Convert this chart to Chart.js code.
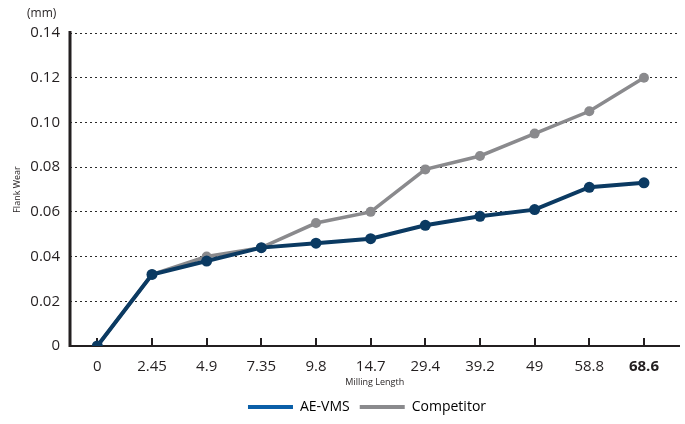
<!DOCTYPE html>
<html>
<head>
<meta charset="utf-8">
<script src="https://cdn.jsdelivr.net/npm/chart.js"></script>
<style>
  html, body { margin: 0; padding: 0; background: #fff; }
  #wrap { width: 685px; height: 424px; position: relative; }
</style>
</head>
<body>
<div id="wrap"><canvas id="wearChart"></canvas></div>
<script>
// datos
const millingLength = ['0', '2.45', '4.9', '7.35', '9.8', '14.7', '29.4', '39.2', '49', '58.8', '68.6'];
const aeVms = [0, 0.032, 0.038, 0.044, 0.046, 0.048, 0.054, 0.058, 0.061, 0.071, 0.073];
const competitor = [0, 0.032, 0.040, 0.044, 0.055, 0.060, 0.079, 0.085, 0.095, 0.105, 0.120];
const yTickLabels = ['0', '0.02', '0.04', '0.06', '0.08', '0.10', '0.12', '0.14'];

const FONT = "'Open Sans', 'Noto Sans', sans-serif";
const DARK = '#231f20';

// eje y solido, marcas del eje x hacia arriba y texto (mm)
const extras = {
  id: 'extras',
  afterLayout(chart) {
    // mover la leyenda un poco a la derecha como en el original
    chart.legend.left += 27;
    chart.legend.right += 27;
  },
  beforeDatasetsDraw(chart) {
    const ctx = chart.ctx;
    const xs = chart.scales.x;
    const { left, top, bottom } = chart.chartArea;
    ctx.save();
    ctx.setLineDash([]);
    ctx.strokeStyle = DARK;
    ctx.lineWidth = 2;
    millingLength.forEach((_, i) => {
      const px = Math.round(xs.getPixelForValue(i));
      ctx.beginPath();
      ctx.moveTo(px, bottom);
      ctx.lineTo(px, bottom - 8);
      ctx.stroke();
    });
    ctx.lineWidth = 3;
    ctx.beginPath();
    ctx.moveTo(left, top - 2);
    ctx.lineTo(left, bottom + 1);
    ctx.stroke();
    ctx.restore();
  },
  afterDraw(chart) {
    const ctx = chart.ctx;
    ctx.save();
    ctx.fillStyle = DARK;
    ctx.font = '12px ' + FONT;
    ctx.textAlign = 'left';
    ctx.textBaseline = 'middle';
    ctx.fillText('(mm)', 27, 14);
    ctx.restore();
  }
};

new Chart(document.getElementById('wearChart'), {
  type: 'line',
  data: {
    datasets: [
      {
        label: 'AE-VMS',
        data: aeVms.map((v, i) => ({ x: i, y: v })),
        borderColor: '#0b3a62',
        backgroundColor: '#0b3a62',
        pointBackgroundColor: '#0b3a62',
        pointBorderWidth: 0,
        pointRadius: 5.5,
        borderWidth: 4,
        tension: 0
      },
      {
        label: 'Competitor',
        data: competitor.map((v, i) => ({ x: i, y: v })),
        borderColor: '#8a8a8d',
        backgroundColor: '#8a8a8d',
        pointBackgroundColor: '#8a8a8d',
        pointBorderWidth: 0,
        pointRadius: 5,
        borderWidth: 3.5,
        tension: 0
      }
    ]
  },
  options: {
    responsive: true,
    maintainAspectRatio: false,
    animation: false,
    layout: { padding: { top: 33, right: 5, left: 0, bottom: 0 } },
    scales: {
      x: {
        type: 'linear',
        min: -0.5,
        max: 10.65,
        afterFit: (s) => { s.height = 44; },
        grid: { drawOnChartArea: false, drawTicks: false },
        border: { display: true, color: DARK, width: 2 },
        ticks: {
          stepSize: 1,
          includeBounds: false,
          autoSkip: false,
          maxRotation: 0,
          padding: 12,
          color: DARK,
          font: (c) => c.index === millingLength.length - 1
            ? { family: FONT, size: 15, weight: 'bold' }
            : { family: FONT, size: 15 },
          callback: (v) => millingLength[v] !== undefined ? millingLength[v] : ''
        },
        title: {
          display: true,
          text: 'Milling Length',
          color: DARK,
          font: { family: FONT, size: 9 },
          padding: { top: 0, bottom: 2 }
        }
      },
      y: {
        min: 0,
        max: 0.14,
        afterFit: (s) => { s.width = 70; },
        grid: { color: '#2a2a2a', lineWidth: 1, drawTicks: false },
        border: { display: false, dash: [2, 3] },
        ticks: {
          stepSize: 0.02,
          padding: 10,
          color: DARK,
          font: { family: FONT, size: 15 },
          callback: (v, i) => yTickLabels[i]
        },
        title: {
          display: true,
          text: 'Flank Wear',
          color: DARK,
          font: { family: FONT, size: 9 },
          padding: { top: 12, bottom: 0 }
        }
      }
    },
    plugins: {
      legend: {
        position: 'bottom',
        labels: {
          boxWidth: 45,
          boxHeight: 4,
          padding: 10,
          color: DARK,
          font: { family: FONT, size: 14 },
          generateLabels: () => [
            { text: 'AE-VMS', fillStyle: '#0a5fa8', strokeStyle: '#0a5fa8', lineWidth: 0, datasetIndex: 0 },
            { text: 'Competitor', fillStyle: '#8a8a8d', strokeStyle: '#8a8a8d', lineWidth: 0, datasetIndex: 1 }
          ]
        }
      },
      tooltip: { enabled: false }
    }
  },
  plugins: [extras]
});
</script>
</body>
</html>
